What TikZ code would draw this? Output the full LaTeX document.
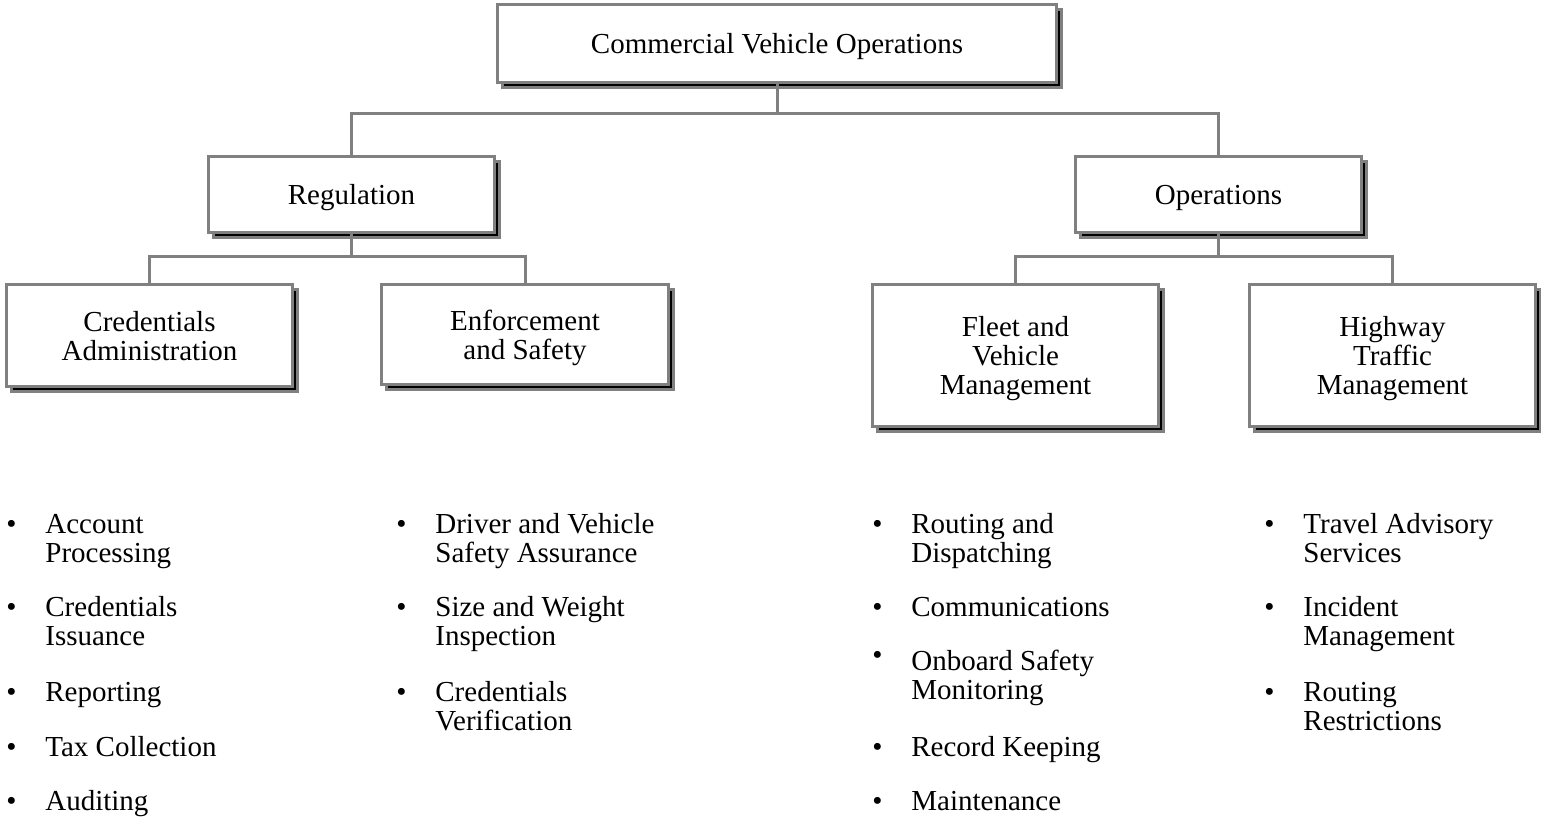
\documentclass[tikz,border=0pt]{standalone}
\usepackage{fontspec}
\setmainfont{Liberation Serif}
\usetikzlibrary{shadows}

\definecolor{linegray}{gray}{0.5}
\newcommand{\bul}{\makebox[19.5pt][l]{\textbullet}}
\newcommand{\itemtext}[1]{\parbox[t]{170pt}{#1}}

\begin{document}
\begin{tikzpicture}[
  x=0.5pt, y=-0.5pt,
  box/.style={draw=linegray, line width=1.5pt, fill=white, align=center, inner sep=0pt, text depth=0pt,
    font={\fontsize{14.5pt}{14.5pt}\selectfont},
    drop shadow={shadow xshift=2.5pt, shadow yshift=-2.5pt, fill=black, draw=linegray, line width=1.5pt, opacity=1}},
  link/.style={draw=linegray, line width=1.5pt},
  item/.style={anchor=base west, inner sep=0pt, font={\fontsize{14.5pt}{14.5pt}\selectfont}}
]
\useasboundingbox (0,0) rectangle (1541,817);

% boxes
\node[box, minimum width=279.5pt, minimum height=39pt] (cvo) at (777,43.5) {Commercial Vehicle Operations};
\node[box, minimum width=143pt, minimum height=38pt] (reg) at (351.5,194.5) {Regulation};
\node[box, minimum width=143pt, minimum height=38pt] (ops) at (1218.5,194.5) {Operations};
\node[box, minimum width=143pt, minimum height=51pt] (cred) at (149.5,335.5) {Credentials\\Administration};
\node[box, minimum width=143.5pt, minimum height=50pt] (enf) at (525,334.5) {Enforcement\\and Safety};
\node[box, minimum width=143pt, minimum height=71pt] (fleet) at (1015.5,355.5) {Fleet and\\Vehicle\\Management};
\node[box, minimum width=143pt, minimum height=71pt] (hwy) at (1392.5,355.5) {Highway\\Traffic\\Management};

% connectors
\coordinate (j0) at (777,114);
\coordinate (j1) at (351.5,257);
\coordinate (j2) at (1218.5,257);
\draw[link] (cvo) -- (j0);
\draw[link] (reg) |- (j0) -| (ops);
\draw[link] (reg) -- (j1);
\draw[link] (cred) |- (j1) -| (enf);
\draw[link] (ops) -- (j2);
\draw[link] (fleet) |- (j2) -| (hwy);

% credentials administration
\node[item] (acct) at (6,533) {\bul\itemtext{Account\\Processing}};
\node[item] (issue) at (6,616) {\bul\itemtext{Credentials\\Issuance}};
\node[item] (report) at (6,701) {\bul\itemtext{Reporting}};
\node[item] (tax) at (6,756) {\bul\itemtext{Tax Collection}};
\node[item] (audit) at (6,810) {\bul\itemtext{Auditing}};

% enforcement and safety
\node[item] (driver) at (396,533) {\bul\itemtext{Driver and Vehicle\\Safety Assurance}};
\node[item] (weight) at (396,616) {\bul\itemtext{Size and Weight\\Inspection}};
\node[item] (verify) at (396,701) {\bul\itemtext{Credentials\\Verification}};

% fleet and vehicle management
\node[item] (route) at (872,533) {\bul\itemtext{Routing and\\Dispatching}};
\node[item] (comm) at (872,616) {\bul\itemtext{Communications}};
\node[item] (onboard) at (872,670) {\makebox[19.5pt][l]{\raisebox{3pt}{\textbullet}}\itemtext{Onboard Safety\\Monitoring}};
\node[item] (record) at (872,756) {\bul\itemtext{Record Keeping}};
\node[item] (maint) at (872,810) {\bul\itemtext{Maintenance}};

% highway traffic management
\node[item] (travel) at (1264,533) {\bul\itemtext{Travel Advisory\\Services}};
\node[item] (incid) at (1264,616) {\bul\itemtext{Incident\\Management}};
\node[item] (restr) at (1264,701) {\bul\itemtext{Routing\\Restrictions}};
\end{tikzpicture}
\end{document}
